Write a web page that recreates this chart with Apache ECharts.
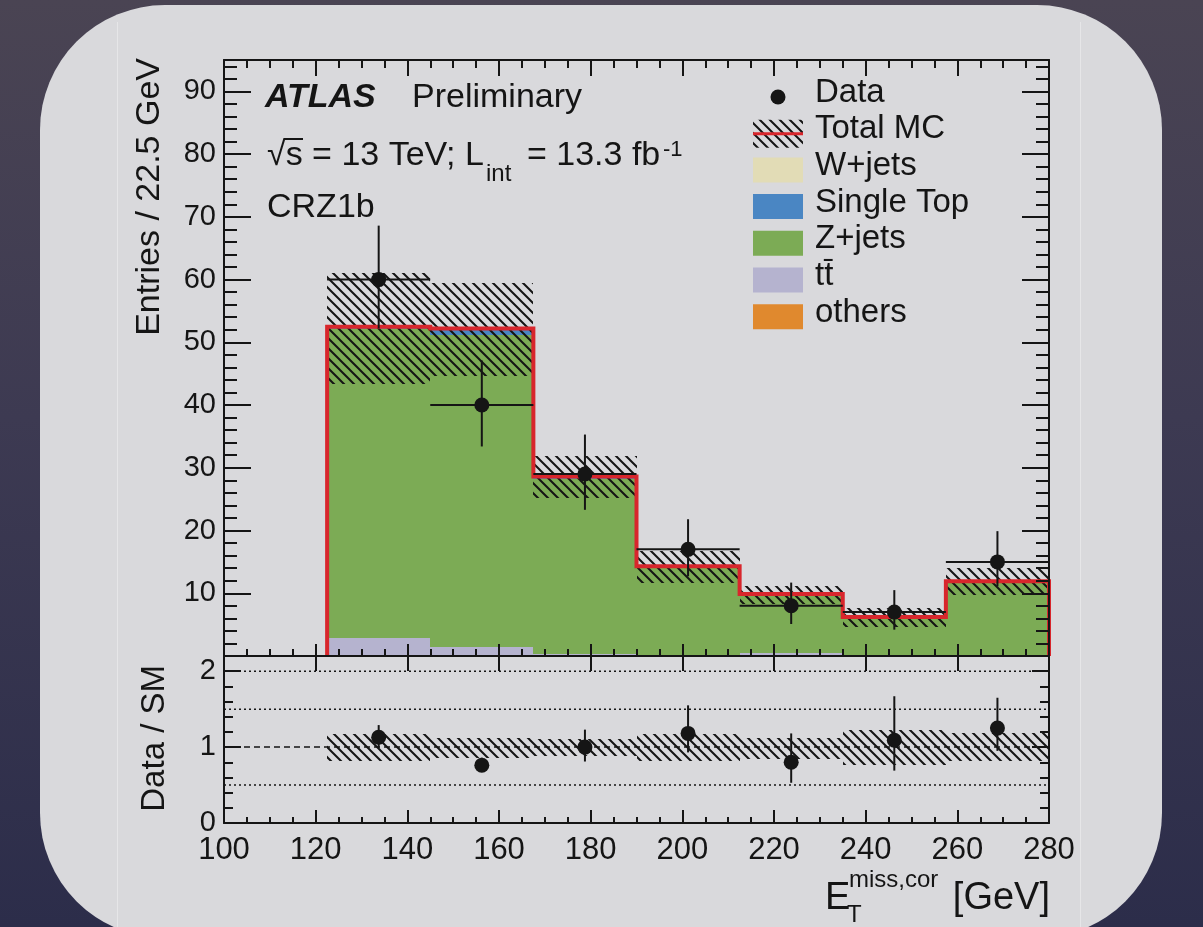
<!DOCTYPE html>
<html><head><meta charset="utf-8">
<script src="https://cdn.jsdelivr.net/npm/echarts@6/dist/echarts.min.js"></script>
<style>
html,body{margin:0;padding:0;width:1203px;height:927px;overflow:hidden;}
body{background:linear-gradient(180deg,#4a4453 0%,#3d3a52 45%,#2c2d4a 100%);position:relative;}
#panel{position:absolute;left:40px;top:5px;width:1122px;height:933px;border-radius:125px;background:#d9d9dc;}
.seam{position:absolute;top:22px;width:1px;height:905px;background:rgba(255,255,255,0.35);}
#chart{position:absolute;left:0;top:0;width:1203px;height:927px;}
</style></head><body>
<div id="panel"></div>
<div class="seam" style="left:117px"></div>
<div class="seam" style="left:1080px"></div>
<div id="chart"></div>
<script>
// ---------------- data ----------------
const binEdges   = [122.5, 145, 167.5, 190, 212.5, 235, 257.5, 280];
const ttbar      = [2.9, 1.5, 0.3, 0.2, 0.4, 0.1, 0.1];
const zjets      = [49.2, 49.6, 27.9, 14.0, 9.4, 6.0, 11.7];
const singleTop  = [0.3, 1.0, 0.1, 0.05, 0.05, 0.05, 0.05];
const others     = [0.1, 0.1, 0.3, 0.05, 0.05, 0.05, 0.05];
const wjets      = [0, 0, 0, 0, 0, 0, 0];
const totalMC    = [52.5, 52.2, 28.6, 14.3, 9.9, 6.2, 11.9];
const mcUncLow   = [43.4, 44.6, 25.2, 11.7, 8.3, 4.7, 9.7];
const mcUncHigh  = [61.1, 59.5, 31.8, 16.8, 11.1, 7.6, 14.0];
const dataVals   = [60, 40, 29, 17, 8, 7, 15];
const dataLow    = [52.2, 33.4, 23.3, 12.7, 5.1, 4.2, 11.1];
const dataHigh   = [68.6, 47.1, 35.3, 21.8, 11.7, 10.5, 19.9];
const ratioVals  = [1.13, 0.76, 1.0, 1.18, 0.8, 1.09, 1.25];
const ratioLow   = [0.99, 0.70, 0.81, 0.93, 0.53, 0.69, 0.95];
const ratioHigh  = [1.29, 0.86, 1.23, 1.55, 1.18, 1.67, 1.65];
const ratioBandLow  = [0.82, 0.86, 0.88, 0.82, 0.84, 0.76, 0.82];
const ratioBandHigh = [1.17, 1.12, 1.11, 1.17, 1.12, 1.23, 1.18];
const ratioGuides = [0.5, 1.5, 2.0];
const ratioUnity  = [1.0];
const legendNames = ['Data', 'Total MC', 'W+jets', 'Single Top', 'Z+jets', 'tt\u0304', 'others'];

// ---------------- style ----------------
const FONT = '"Liberation Sans", Arial, Helvetica, sans-serif';
const INK = '#151515';
const RED = '#d8262c';
const stackList   = [ttbar, zjets, singleTop, others, wjets];
const stackColors = ['#b5b3cf', '#7cab55', '#4a86c3', '#e0892e', '#e2dcb6'];
const legendColors = {'W+jets':'#e2dcb6','Single Top':'#4a86c3','Z+jets':'#7cab55','tt\u0304':'#b5b3cf','others':'#e0892e'};

function hatchCanvas(){
  const c = document.createElement('canvas'); c.width = 10; c.height = 10;
  const g = c.getContext('2d');
  g.strokeStyle = '#141414'; g.lineWidth = 2;
  g.beginPath();
  g.moveTo(-2,-2); g.lineTo(12,12);
  g.moveTo(-2,8); g.lineTo(2,12);
  g.moveTo(8,-2); g.lineTo(12,2);
  g.stroke();
  return c;
}
const HATCH = {image: hatchCanvas(), repeat: 'repeat'};

function rectRender(fill){
  return function(params, api){
    const a = api.coord([api.value(0), api.value(3)]);
    const b = api.coord([api.value(1), api.value(2)]);
    const x0 = Math.round(a[0]), x1 = Math.round(b[0]), y0 = Math.round(a[1]), y1 = Math.round(b[1]);
    return {type:'rect', shape:{x:x0, y:y0, width:x1-x0, height:y1-y0}, style:{fill:fill}};
  };
}
function pointsRender(withX, r){
  return function(params, api){
    const c = api.value(0), v = api.value(1), lo = api.value(2), hi = api.value(3);
    const pc = api.coord([c, v]), pl = api.coord([c, lo]), ph = api.coord([c, hi]);
    const ch = [{type:'line', shape:{x1:pc[0], y1:pl[1], x2:pc[0], y2:ph[1]}, style:{stroke:INK, lineWidth:2}}];
    if (withX){
      const a = api.coord([api.value(4), v]), b = api.coord([api.value(5), v]);
      ch.push({type:'line', shape:{x1:a[0], y1:a[1], x2:b[0], y2:b[1]}, style:{stroke:INK, lineWidth:2}});
    }
    ch.push({type:'circle', shape:{cx:pc[0], cy:pc[1], r:r}, style:{fill:INK}});
    return {type:'group', children:ch};
  };
}

const nb = binEdges.length - 1;
const binIdx = Array.from({length: nb}, (_, i) => i);

// stacked histogram series
const cum = new Array(nb).fill(0);
const stackSeries = stackList.map((vals, k) => {
  const items = vals.map((v, i) => { const b = cum[i]; cum[i] += v; return [binEdges[i], binEdges[i+1], b, cum[i]]; });
  return {type:'custom', xAxisIndex:0, yAxisIndex:0, silent:true, z:2, renderItem: rectRender(stackColors[k]), data: items};
});

const hatchMain = {type:'custom', xAxisIndex:0, yAxisIndex:0, silent:true, z:3, renderItem: rectRender(HATCH),
  data: binIdx.map(i => [binEdges[i], binEdges[i+1], mcUncLow[i], mcUncHigh[i]])};

const redLine = {type:'custom', xAxisIndex:0, yAxisIndex:0, silent:true, z:4, data:[[0]],
  renderItem: function(params, api){
    const pts = [api.coord([binEdges[0], 0])];
    binIdx.forEach(i => { pts.push(api.coord([binEdges[i], totalMC[i]])); pts.push(api.coord([binEdges[i+1], totalMC[i]])); });
    pts.push(api.coord([binEdges[nb], 0]));
    return {type:'polyline', shape:{points:pts}, style:{stroke:RED, lineWidth:4, fill:null, lineJoin:'miter'}};
  }};

const dataSeries = {type:'custom', xAxisIndex:0, yAxisIndex:0, silent:true, z:5, renderItem: pointsRender(true, 7.5),
  data: binIdx.map(i => [(binEdges[i]+binEdges[i+1])/2, dataVals[i], dataLow[i], dataHigh[i], binEdges[i], binEdges[i+1]])};

const hatchRatio = {type:'custom', xAxisIndex:2, yAxisIndex:4, silent:true, z:3, renderItem: rectRender(HATCH),
  data: binIdx.map(i => [binEdges[i], binEdges[i+1], ratioBandLow[i], ratioBandHigh[i]])};

const ratioSeries = {type:'custom', xAxisIndex:2, yAxisIndex:4, silent:true, z:5, renderItem: pointsRender(false, 7.5),
  data: binIdx.map(i => [(binEdges[i]+binEdges[i+1])/2, ratioVals[i], ratioLow[i], ratioHigh[i]])};

const guideSeries = ratioGuides.map(v => ({type:'line', xAxisIndex:2, yAxisIndex:4, silent:true, z:1, symbol:'none',
  data:[[100, v], [280, v]], lineStyle:{color:INK, width:1.5, type:[2,3]}}));
const unitySeries = ratioUnity.map(v => ({type:'line', xAxisIndex:2, yAxisIndex:4, silent:true, z:1, symbol:'none',
  data:[[100, v], [280, v]], lineStyle:{color:INK, width:1.5, type:[6,4]}}));

// ---------------- axes ----------------
const line2 = {color: INK, width: 2};
function xAx(grid, pos, major, minor, labels){
  return {type:'value', gridIndex:grid, position:pos, min:100, max:280, interval:20, z:6,
    axisLine:{show:true, onZero:false, lineStyle:line2},
    axisTick:{show:true, inside:true, length:major, lineStyle:line2},
    minorTick:{show:minor>0, splitNumber:4, length:minor, lineStyle:line2},
    axisLabel:{show:labels, margin:12, fontSize:31, color:INK, fontFamily:FONT},
    splitLine:{show:false}, minorSplitLine:{show:false}};
}
function yAx(grid, pos, max, interval, len, labels, showLine){
  return {type:'value', gridIndex:grid, position:pos, min:0, max:max, interval:interval, z:6,
    axisLine:{show:showLine, onZero:false, lineStyle:line2},
    axisTick:{show:true, inside:true, length:len, lineStyle:line2},
    axisLabel:{show:labels, margin:8, fontSize:29, color:INK, fontFamily:FONT, showMaxLabel:false,
      formatter: v => (Math.abs(v - Math.round(v)) < 1e-6 ? String(Math.round(v)) : '')},
    splitLine:{show:false}};
}
const yMain0 = yAx(0, 'left', 95, 10, 27, true, true); yMain0.axisLabel.showMinLabel = false;

// ---------------- graphic (legend + text) ----------------
function txt(x, y, s, fs, extra){
  return Object.assign({type:'text', x:x, y:y, silent:true, z:20,
    style: Object.assign({text:s, fontSize:fs, fontFamily:FONT, fill:INK, align:'left', verticalAlign:'middle'}, (extra||{}))});
}
const LX = 753, LW = 50, LT = 815, LB0 = 104, LSTEP = 36.7;
const legendEls = [];
legendNames.forEach((name, k) => {
  const base = LB0 + k * LSTEP;
  const yc = base - 8;
  legendEls.push(txt(LT, base - 11.5, name, 33));
  if (name === 'Data') {
    legendEls.push({type:'circle', silent:true, z:20, shape:{cx:LX + LW/2, cy:yc + 1, r:7.5}, style:{fill:INK}});
  } else if (name === 'Total MC') {
    legendEls.push({type:'rect', silent:true, z:20, shape:{x:LX, y:yc - 13, width:LW, height:28}, style:{fill:HATCH}});
    legendEls.push({type:'line', silent:true, z:21, shape:{x1:LX, y1:yc + 1, x2:LX + LW, y2:yc + 1}, style:{stroke:RED, lineWidth:3}});
  } else {
    legendEls.push({type:'rect', silent:true, z:20, shape:{x:LX, y:yc - 12, width:LW, height:25}, style:{fill:legendColors[name]}});
  }
});

const textEls = [
  txt(265, 98, 'ATLAS', 34, {fontWeight:'bold', fontStyle:'italic'}),
  txt(412, 98, 'Preliminary', 34),
  txt(267, 156, '\u221As = 13 TeV; L', 34),
  {type:'line', silent:true, z:20, shape:{x1:285, y1:139, x2:303, y2:139}, style:{stroke:INK, lineWidth:2}},
  txt(486, 174, 'int', 24),
  txt(527, 156, '= 13.3 fb', 34),
  txt(663, 150, '-1', 22),
  txt(267, 208, 'CRZ1b', 34),
  txt(150, 58, 'Entries / 22.5 GeV', 34, {align:'right'}),
  txt(155, 665, 'Data / SM', 33, {align:'right'}),
  txt(825, 899, 'E', 38),
  txt(847, 915, 'T', 24),
  txt(849, 880, 'miss,cor', 24),
  txt(1050, 899, '[GeV]', 38, {align:'right'})
];
textEls[8].rotation = Math.PI / 2;
textEls[9].rotation = Math.PI / 2;

const chart = echarts.init(document.getElementById('chart'), null, {renderer:'canvas', width:1203, height:927});
chart.setOption({
  animation:false,
  backgroundColor:'transparent',
  grid:[
    {left:224, width:825, top:60, height:596, outerBoundsMode:'none', containLabel:false},
    {left:224, width:825, top:656, height:167, outerBoundsMode:'none', containLabel:false}
  ],
  xAxis:[
    xAx(0, 'bottom', 12, 7, false),
    xAx(0, 'top', 16, 8, false),
    xAx(1, 'bottom', 13, 6, true),
    xAx(1, 'top', 15, 0, false)
  ],
  yAxis:[
    yMain0,
    yAx(0, 'left', 95, 2, 13, false, false),
    yAx(0, 'right', 95, 10, 27, false, true),
    yAx(0, 'right', 95, 2, 13, false, false),
    yAx(1, 'left', 2.2, 1, 17, true, true),
    yAx(1, 'left', 2.2, 0.2, 9, false, false),
    yAx(1, 'right', 2.2, 1, 17, false, true),
    yAx(1, 'right', 2.2, 0.2, 9, false, false)
  ],
  graphic: legendEls.concat(textEls),
  series: [].concat(stackSeries, [hatchMain, redLine, dataSeries], guideSeries, unitySeries, [hatchRatio, ratioSeries])
});
</script></body></html>
